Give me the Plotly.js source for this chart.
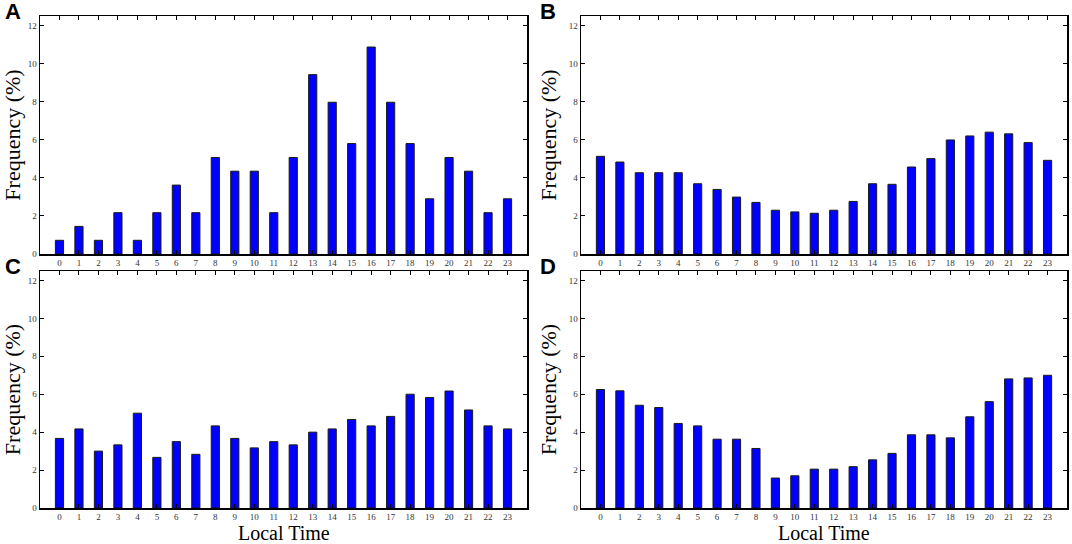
<!DOCTYPE html>
<html>
<head>
<meta charset="utf-8">
<script src="https://cdn.plot.ly/plotly-3.0.1.min.js"></script>
<style>
  html, body { margin: 0; padding: 0; background: #fff; }
  #chart { width: 1072px; height: 544px; }
</style>
</head>
<body>
<div id="chart"></div>
<script>
// local time hours
const hours = [0,1,2,3,4,5,6,7,8,9,10,11,12,13,14,15,16,17,18,19,20,21,22,23];

// frequency (%) per panel
const freqA = [0.72,1.45,0.72,2.17,0.72,2.17,3.62,2.17,5.07,4.35,4.35,2.17,5.07,9.42,7.97,5.80,10.87,7.97,5.80,2.90,5.07,4.35,2.17,2.90];
const freqB = [5.13,4.83,4.27,4.27,4.27,3.69,3.39,2.99,2.71,2.30,2.21,2.14,2.30,2.76,3.69,3.66,4.57,5.01,5.99,6.20,6.40,6.31,5.85,4.92];
const freqC = [3.67,4.17,3.00,3.33,5.00,2.67,3.50,2.83,4.33,3.67,3.17,3.50,3.33,4.00,4.17,4.67,4.33,4.83,6.00,5.83,6.17,5.17,4.33,4.17];
const freqD = [6.25,6.18,5.42,5.30,4.46,4.33,3.63,3.63,3.14,1.58,1.70,2.05,2.05,2.18,2.54,2.88,3.86,3.86,3.70,4.81,5.61,6.81,6.86,7.00];

const panelLabels = ['A', 'B', 'C', 'D'];
const yTicks = [0, 2, 4, 6, 8, 10, 12];

const W = 1072, H = 544;
const serif = 'Liberation Serif, Times New Roman, serif';

// pixel boxes of the four panels
const boxes = [
    { x0: 40,  x1: 527,  y0: 16,  y1: 254, lx: 13 },
    { x0: 581, x1: 1067, y0: 16,  y1: 254, lx: 548 },
    { x0: 40,  x1: 527,  y0: 271, y1: 508, lx: 13 },
    { x0: 581, x1: 1067, y0: 271, y1: 508, lx: 548 }
];

const series = [freqA, freqB, freqC, freqD];

const traces = series.map((vals, i) => ({
    type: 'bar',
    x: hours,
    y: vals,
    xaxis: 'x' + (i === 0 ? '' : i + 1),
    yaxis: 'y' + (i === 0 ? '' : i + 1),
    width: 0.42,
    marker: { color: '#0000ff', line: { color: '#1a1a1a', width: 1 } },
    hoverinfo: 'x+y',
    showlegend: false
}));

const layout = {
    width: W,
    height: H,
    margin: { l: 0, r: 0, t: 0, b: 0 },
    paper_bgcolor: '#ffffff',
    plot_bgcolor: '#ffffff',
    showlegend: false,
    annotations: []
};

boxes.forEach((b, i) => {
    const suffix = i === 0 ? '' : String(i + 1);
    const bottomRow = i >= 2;
    layout['xaxis' + suffix] = {
        domain: [b.x0 / W, b.x1 / W],
        anchor: 'y' + suffix,
        range: [-1, 24],
        tickvals: hours,
        ticktext: hours.map(String),
        ticks: 'inside',
        ticklen: 4,
        tickwidth: 1,
        tickcolor: '#000',
        showline: true,
        linecolor: '#000',
        linewidth: 1.5,
        mirror: 'ticks',
        showgrid: false,
        zeroline: false,
        tickfont: { family: serif, size: 9, color: '#333' }
    };
    layout['yaxis' + suffix] = {
        domain: [1 - b.y1 / H, 1 - b.y0 / H],
        anchor: 'x' + suffix,
        range: [0, 12.5],
        tickvals: yTicks,
        ticks: 'inside',
        ticklen: 4,
        tickwidth: 1,
        tickcolor: '#000',
        showline: true,
        linecolor: '#000',
        linewidth: 1.5,
        mirror: 'ticks',
        showgrid: false,
        zeroline: false,
        tickfont: { family: serif, size: 9, color: '#333' },
        title: { text: 'Frequency (%)', font: { family: serif, size: 22, color: '#000' }, standoff: 6 }
    };
    // x title only under the bottom row, sitting at the foot of the page
    if (bottomRow) {
        layout.annotations.push({
            xref: 'paper', yref: 'paper',
            x: (b.x0 + b.x1) / 2 / W, y: -0.003,
            xanchor: 'center', yanchor: 'bottom',
            text: 'Local Time',
            showarrow: false,
            font: { family: serif, size: 20, color: '#000' }
        });
    }
    // panel letter
    layout.annotations.push({
        xref: 'paper', yref: 'paper',
        x: b.lx / W, y: 1 - (b.y0 - 5) / H,
        xanchor: 'center', yanchor: 'middle',
        text: '<b>' + panelLabels[i] + '</b>',
        showarrow: false,
        font: { family: 'Liberation Sans, Arial, sans-serif', size: 22, color: '#000' }
    });
});

Plotly.newPlot('chart', traces, layout, { displayModeBar: false, staticPlot: true });
</script>
</body>
</html>
